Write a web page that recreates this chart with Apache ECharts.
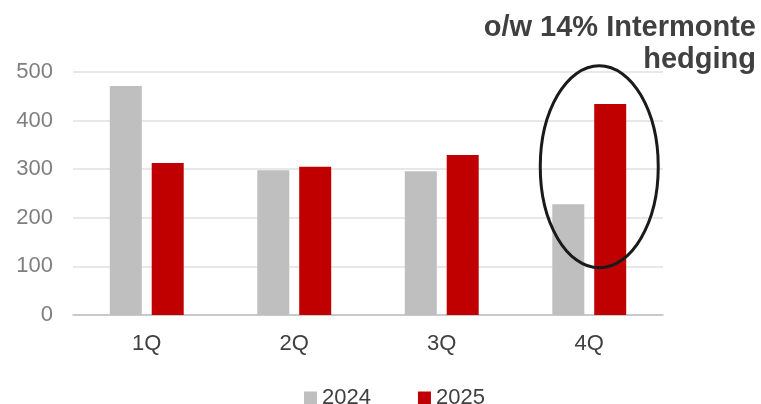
<!DOCTYPE html>
<html><head><meta charset="utf-8">
<script src="https://cdn.jsdelivr.net/npm/echarts@6/dist/echarts.min.js"></script>
<style>html,body{margin:0;padding:0;background:#fff}#c{width:761px;height:404px}</style>
</head><body><div id="c"></div>
<script>
const categories = ['1Q','2Q','3Q','4Q'];
const series2024 = [471, 298, 296, 228];
const series2025 = [313, 305, 329, 434];
const seriesNames = ['2024','2025'];
const yTicks = [0,100,200,300,400,500];
const noteLines = ['o/w 14% Intermonte','hedging'];

const chart = echarts.init(document.getElementById('c'));
const font = 'Liberation Sans, Arial, sans-serif';
chart.setOption({
  animation:false,
  grid:{left:73,right:98,top:72,bottom:89},
  legend:{data:seriesNames,top:382,left:299,itemWidth:13,itemHeight:13,itemGap:47,
    textStyle:{fontSize:22,color:'#404040',fontFamily:font},icon:'rect'},
  xAxis:{type:'category',data:categories,
    axisLine:{lineStyle:{color:'#bfbfbf',width:1.5}},axisTick:{show:false},
    axisLabel:{fontSize:22,color:'#404040',fontFamily:font,margin:18}},
  yAxis:{type:'value',min:0,max:500,interval:100,
    axisLine:{show:false},axisTick:{show:false},
    splitLine:{lineStyle:{color:'#e0e0e0',width:1.5}},
    axisLabel:{fontSize:22,color:'#7f7f7f',fontFamily:font,margin:20}},
  series:[
    {name:seriesNames[0],type:'bar',data:series2024,barWidth:32,barGap:'31%',itemStyle:{color:'#bfbfbf'}},
    {name:seriesNames[1],type:'bar',data:series2025,barWidth:32,itemStyle:{color:'#c00000'}}
  ]
});
const cx = chart.convertToPixel({xAxisIndex:0},'4Q')+10;
const cy = chart.convertToPixel({yAxisIndex:0},305);
chart.setOption({graphic:[
  {type:'ellipse',shape:{cx:cx,cy:cy,rx:59,ry:101},style:{fill:null,stroke:'#1a1a1a',lineWidth:3},z:100},
  {type:'text',right:5,top:13,style:{text:noteLines[0],font:'bold 29px '+font,fill:'#404040'},z:100},
  {type:'text',right:5,top:45,style:{text:noteLines[1],font:'bold 29px '+font,fill:'#404040'},z:100}
]});
</script></body></html>
